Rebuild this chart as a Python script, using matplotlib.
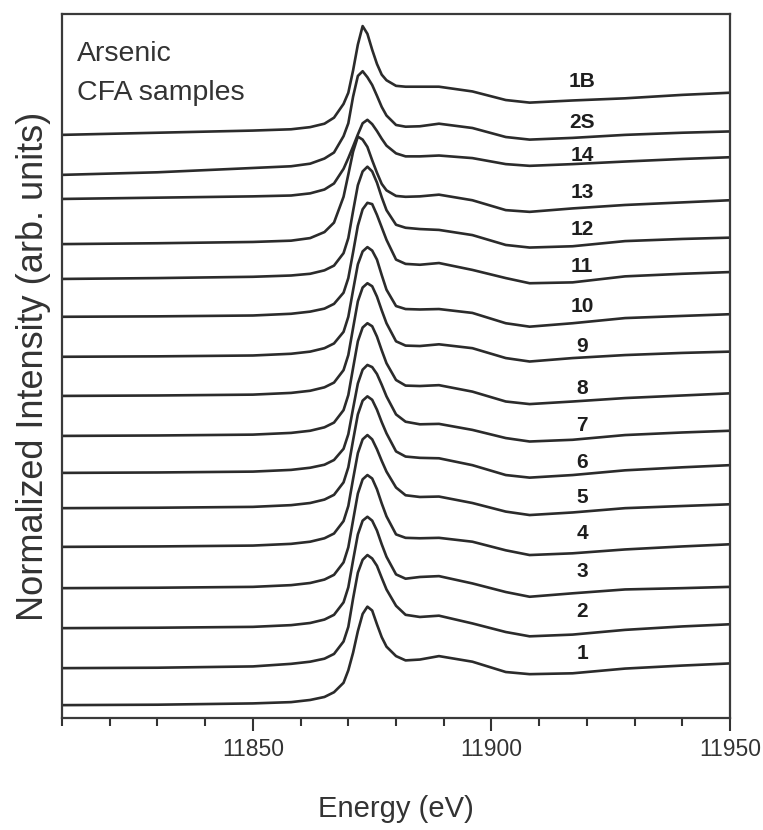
import matplotlib
matplotlib.use("Agg")
import matplotlib.pyplot as plt
from matplotlib.ticker import FixedLocator, MultipleLocator

# Energy grid (eV) shared by all spectra
energy = [11810, 11830, 11850, 11858, 11862, 11865, 11867, 11869, 11870, 11871,
          11872, 11873, 11874, 11875, 11876, 11877, 11878, 11880, 11882, 11885,
          11889, 11896, 11903, 11908, 11917, 11928, 11940, 11950]

# Normalized As K-edge XANES, pre-edge set to zero
mu_1 = [0, 0.01, 0.04, 0.07, 0.12, 0.19, 0.30, 0.52, 0.81, 1.22,
        1.72, 2.12, 2.29, 2.20, 1.88, 1.58, 1.36, 1.14, 1.04, 1.06,
        1.14, 1.01, 0.77, 0.72, 0.74, 0.85, 0.92, 0.97]
mu_2 = [0, 0.01, 0.04, 0.10, 0.15, 0.22, 0.33, 0.62, 0.96, 1.62,
        2.22, 2.52, 2.63, 2.55, 2.38, 2.10, 1.83, 1.45, 1.24, 1.19,
        1.22, 1.04, 0.84, 0.74, 0.78, 0.89, 0.97, 1.02]
mu_3 = [0, 0.01, 0.03, 0.07, 0.12, 0.20, 0.31, 0.60, 0.95, 1.58,
        2.18, 2.50, 2.59, 2.50, 2.27, 1.95, 1.66, 1.25, 1.15, 1.19,
        1.21, 1.04, 0.84, 0.73, 0.81, 0.90, 0.93, 0.96]
mu_4 = [0, 0.01, 0.03, 0.07, 0.12, 0.20, 0.31, 0.60, 0.95, 1.58,
        2.20, 2.53, 2.63, 2.55, 2.30, 1.97, 1.67, 1.25, 1.17, 1.16,
        1.17, 1.08, 0.88, 0.77, 0.81, 0.90, 0.97, 1.02]
mu_5 = [0, 0.01, 0.03, 0.07, 0.12, 0.20, 0.31, 0.60, 0.95, 1.58,
        2.18, 2.50, 2.60, 2.50, 2.27, 2.00, 1.75, 1.38, 1.20, 1.16,
        1.17, 1.02, 0.82, 0.74, 0.80, 0.90, 0.95, 0.99]
mu_6 = [0, 0.01, 0.03, 0.07, 0.12, 0.20, 0.31, 0.60, 0.95, 1.58,
        2.18, 2.50, 2.60, 2.52, 2.29, 2.00, 1.74, 1.32, 1.20, 1.17,
        1.16, 1.00, 0.77, 0.71, 0.77, 0.88, 0.95, 1.00]
mu_7 = [0, 0.01, 0.03, 0.07, 0.12, 0.19, 0.30, 0.56, 0.90, 1.50,
        2.08, 2.40, 2.51, 2.46, 2.30, 2.05, 1.78, 1.36, 1.19, 1.13,
        1.14, 1.00, 0.81, 0.73, 0.77, 0.88, 0.94, 0.98]
mu_8 = [0, 0.01, 0.03, 0.07, 0.12, 0.20, 0.31, 0.60, 0.95, 1.58,
        2.20, 2.52, 2.62, 2.55, 2.31, 1.99, 1.69, 1.30, 1.17, 1.16,
        1.18, 1.03, 0.80, 0.74, 0.80, 0.88, 0.94, 0.99]
mu_9 = [0, 0.01, 0.03, 0.07, 0.12, 0.20, 0.31, 0.60, 0.95, 1.58,
        2.20, 2.52, 2.62, 2.55, 2.31, 1.99, 1.69, 1.27, 1.17, 1.16,
        1.20, 1.11, 0.88, 0.80, 0.88, 0.95, 1.00, 1.03]
mu_10 = [0, 0.01, 0.03, 0.07, 0.12, 0.20, 0.31, 0.58, 0.93, 1.55,
         2.15, 2.45, 2.55, 2.47, 2.26, 1.90, 1.56, 1.18, 1.11, 1.10,
         1.11, 1.02, 0.78, 0.70, 0.78, 0.90, 0.95, 0.99]
mu_11 = [0, 0.01, 0.03, 0.07, 0.12, 0.19, 0.30, 0.56, 0.90, 1.50,
         2.12, 2.50, 2.65, 2.62, 2.37, 2.08, 1.79, 1.33, 1.23, 1.21,
         1.25, 1.09, 0.90, 0.78, 0.80, 0.94, 1.00, 1.04]
mu_12 = [0, 0.02, 0.05, 0.08, 0.12, 0.20, 0.31, 0.60, 0.95, 1.58,
         2.18, 2.50, 2.61, 2.50, 2.24, 1.90, 1.60, 1.26, 1.19, 1.16,
         1.14, 1.02, 0.79, 0.73, 0.76, 0.88, 0.93, 0.96]
mu_13 = [0, 0.02, 0.05, 0.08, 0.14, 0.28, 0.50, 1.10, 1.62, 2.15,
         2.50, 2.43, 2.26, 1.95, 1.66, 1.40, 1.25, 1.12, 1.10, 1.11,
         1.15, 1.02, 0.79, 0.75, 0.83, 0.91, 0.97, 1.02]
mu_14 = [0, 0.03, 0.06, 0.08, 0.13, 0.22, 0.36, 0.70, 0.95, 1.22,
         1.50, 1.76, 1.84, 1.74, 1.58, 1.40, 1.24, 1.06, 0.99, 0.99,
         1.01, 0.95, 0.81, 0.77, 0.81, 0.87, 0.93, 0.97]
mu_2S = [0, 0.06, 0.16, 0.20, 0.26, 0.38, 0.52, 0.90, 1.20, 1.82,
         2.30, 2.41, 2.27, 2.09, 1.84, 1.58, 1.38, 1.16, 1.12, 1.13,
         1.19, 1.09, 0.88, 0.82, 0.86, 0.93, 0.98, 1.01]
mu_1B = [0, 0.05, 0.10, 0.13, 0.18, 0.26, 0.40, 0.72, 0.98, 1.50,
         2.10, 2.53, 2.35, 1.98, 1.65, 1.40, 1.27, 1.14, 1.12, 1.12,
         1.12, 1.01, 0.81, 0.75, 0.80, 0.85, 0.93, 0.98]

labels = ["1", "2", "3", "4", "5", "6", "7", "8", "9", "10",
          "11", "12", "13", "14", "2S", "1B"]
offsets = [0.30, 1.16, 2.09, 3.02, 3.98, 4.88, 5.70, 6.56, 7.49, 8.40,
           9.33, 10.21, 11.02, 12.07, 12.63, 13.56]
label_y = [1.51, 2.47, 3.40, 4.28, 5.12, 5.95, 6.81, 7.67, 8.63, 9.56,
           10.49, 11.35, 12.23, 13.09, 13.84, 14.79]

spectra = [mu_1, mu_2, mu_3, mu_4, mu_5, mu_6, mu_7, mu_8, mu_9, mu_10,
           mu_11, mu_12, mu_13, mu_14, mu_2S, mu_1B]

plt.rcParams['font.family'] = ['Liberation Sans', 'DejaVu Sans']

fig = plt.figure(figsize=(7.63, 8.30), dpi=100)
ax = fig.add_axes([0.0813, 0.1349, 0.8755, 0.8482])

line_color = '#2b2b2b'
for mu, off in zip(spectra, offsets):
    ax.plot(energy, [v + off for v in mu], color=line_color, lw=1.9,
            solid_joinstyle='round')

for lab, y in zip(labels, label_y):
    ax.text(11919, y, lab, ha='center', va='center', fontsize=15,
            fontweight='bold', color='#1e1e1e')

ax.text(0.0225, 0.933, "Arsenic", transform=ax.transAxes, fontsize=20.5,
        va='baseline', color='#333333')
ax.text(0.0225, 0.878, "CFA samples", transform=ax.transAxes, fontsize=20.5,
        va='baseline', color='#333333')

ax.set_xlim(11810, 11950)
ax.set_ylim(0, 16.37)

ax.xaxis.set_major_locator(FixedLocator([11850, 11900, 11950]))
ax.xaxis.set_minor_locator(MultipleLocator(10))
ax.tick_params(axis='x', which='major', direction='out', length=9.5,
               width=1.5, color='#333333', labelsize=16.5, pad=5,
               labelcolor='#333333')
ax.tick_params(axis='x', which='minor', direction='out', length=5.5,
               width=1.5, color='#333333')
ax.set_yticks([])

for side in ['left', 'right', 'top', 'bottom']:
    ax.spines[side].set_linewidth(1.6)
    ax.spines[side].set_color('#3a3a3a')

ax.set_xlabel("Energy (eV)", fontsize=21, labelpad=24, color='#333333')
ax.set_ylabel("Normalized Intensity (arb. units)", fontsize=26, labelpad=8,
              color='#333333')

fig.savefig("out.png", dpi=100)
